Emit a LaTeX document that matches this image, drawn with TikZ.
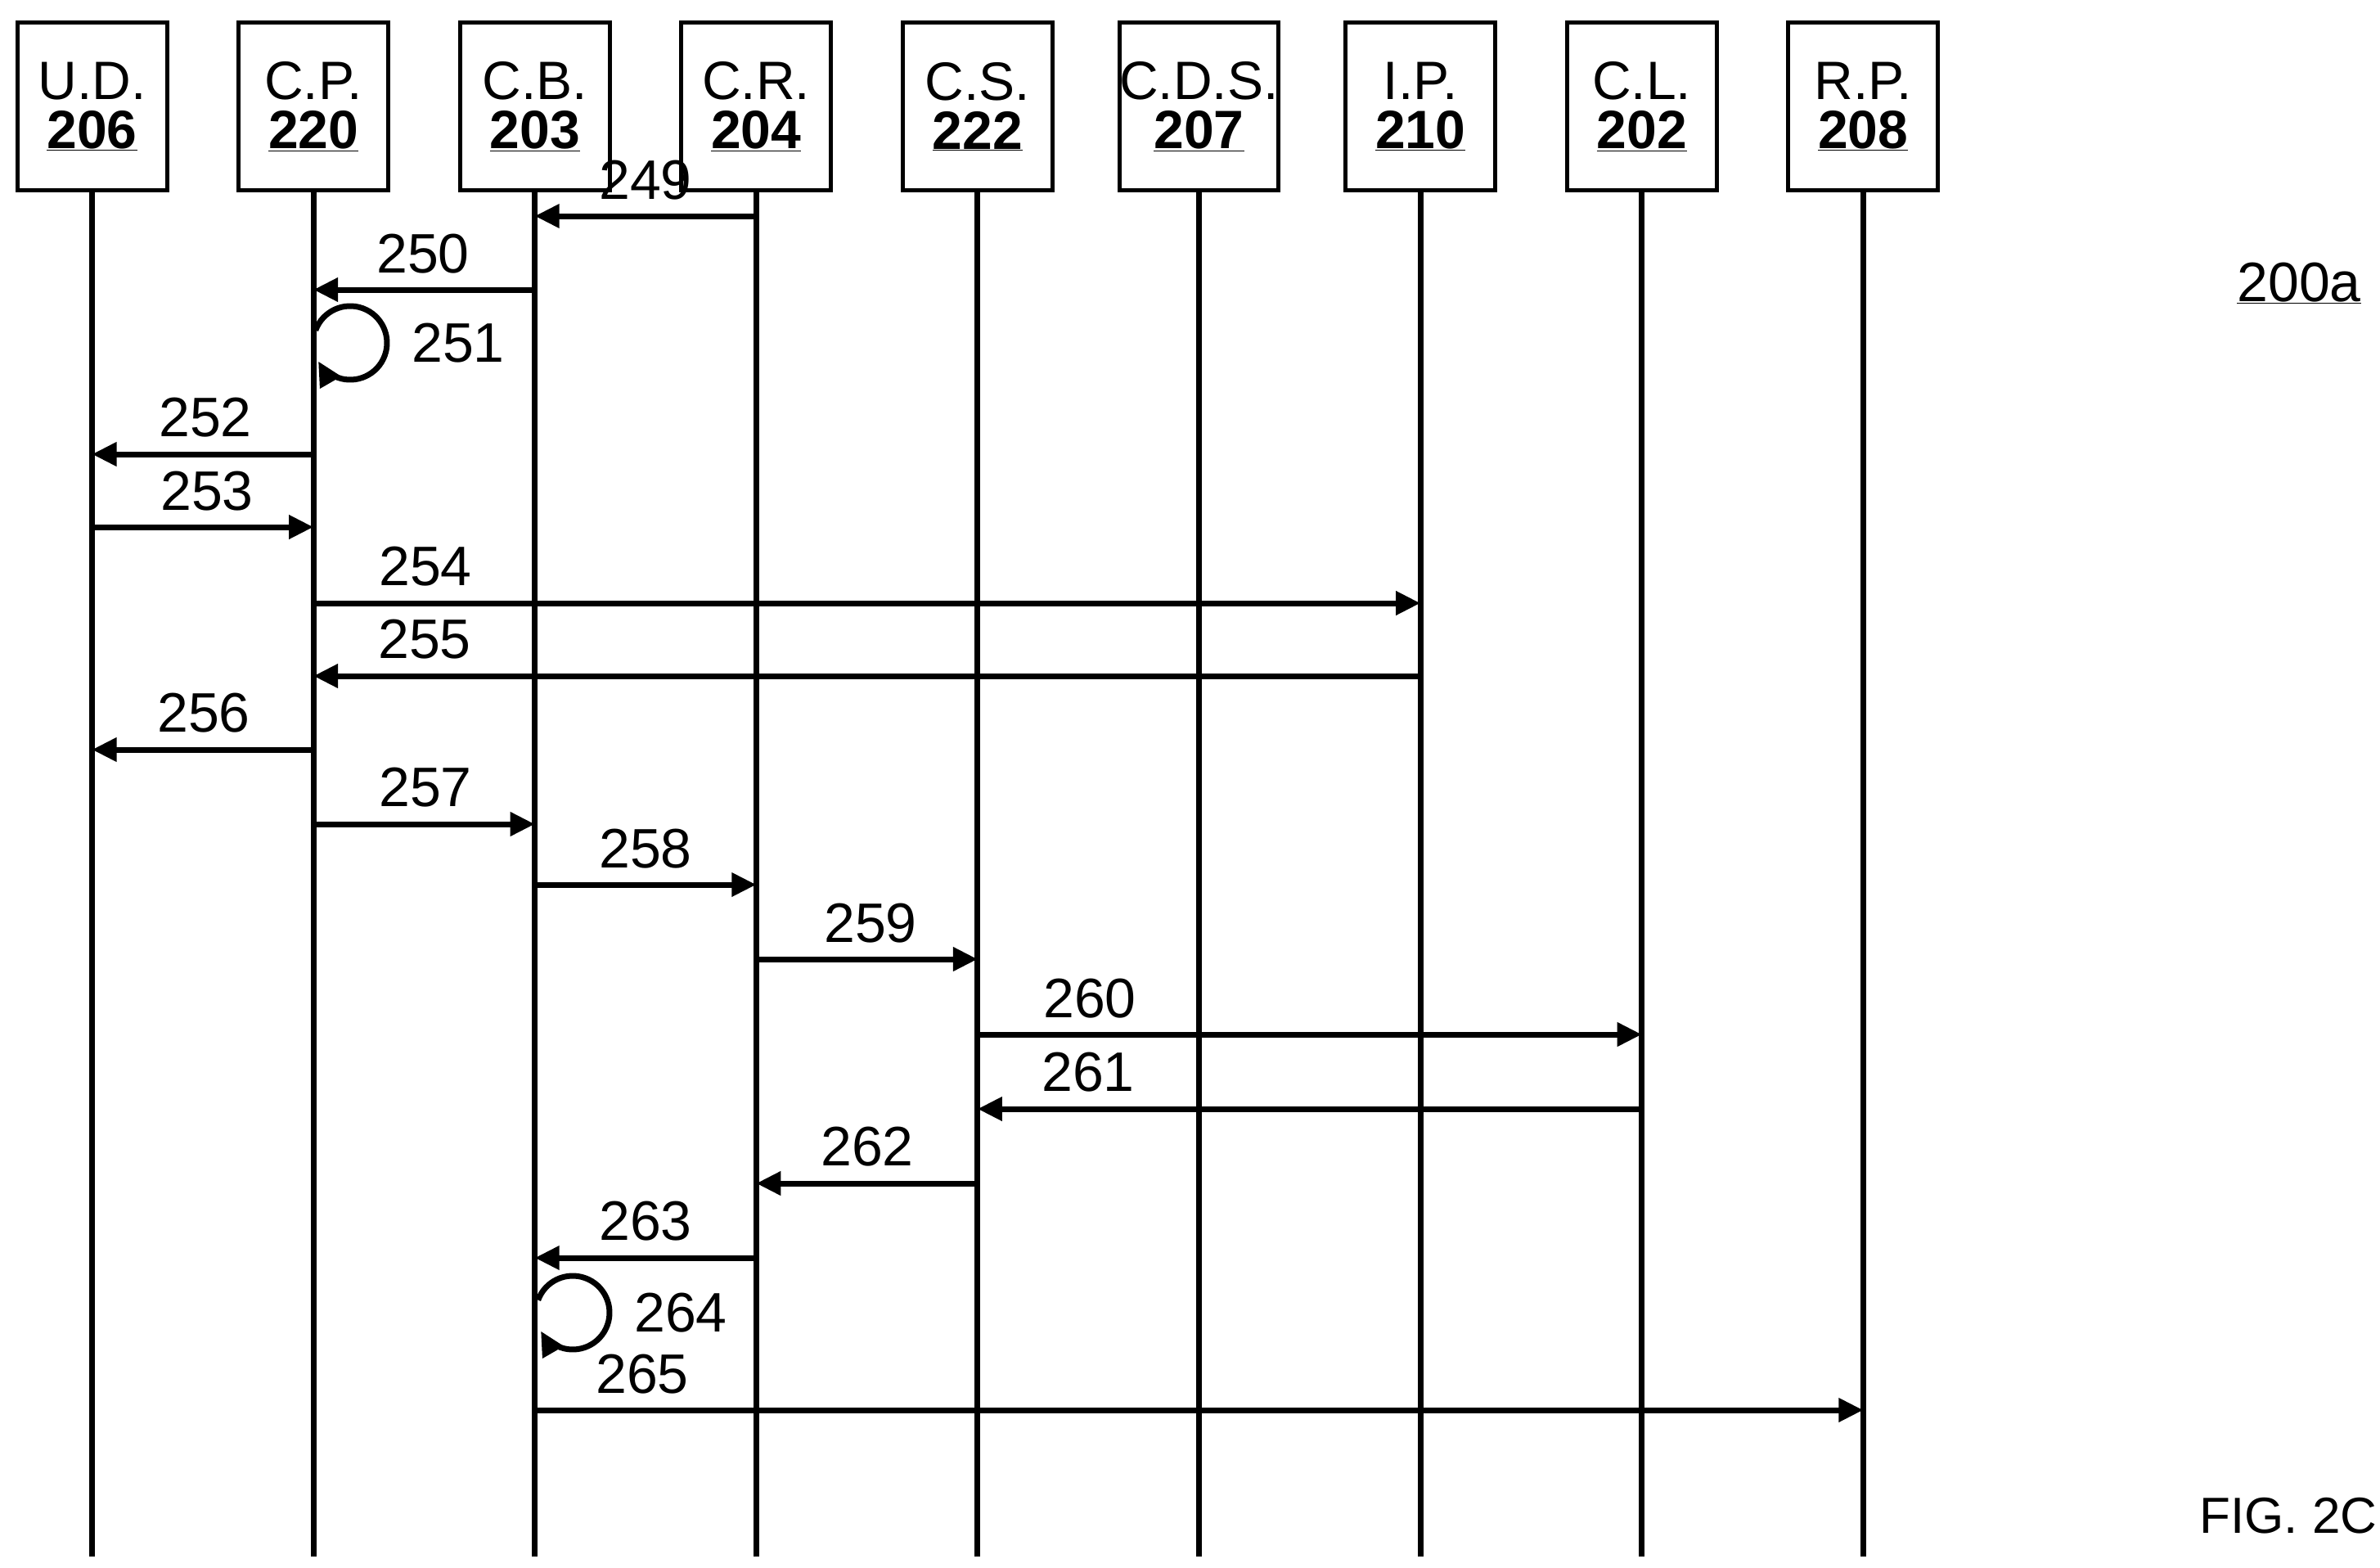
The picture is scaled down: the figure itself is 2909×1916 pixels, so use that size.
\documentclass[tikz,border=0pt]{standalone}
\usepackage{fontspec}
\setmainfont{Liberation Sans}
\usetikzlibrary{arrows.meta}
\begin{document}
\begin{tikzpicture}[x=1pt,y=-1pt,
  hdr/.style={draw,line width=5pt,minimum width=183pt,minimum height=204pt,inner sep=0pt,align=center,font=\fontsize{66}{66}\selectfont},
  life/.style={line width=7pt},
  msg/.style={line width=7pt,-{Triangle[length=30pt,width=28pt]}},
  lbl/.style={font=\fontsize{68}{68}\selectfont,inner sep=0pt}]
\useasboundingbox (0,0) rectangle (2909,1916);
\foreach \i/\n/\t/\num in {0/ud/U.D./206,1/cp/C.P./220,2/cb/C.B./203,3/cr/C.R./204,4/cs/C.S./222,5/cds/C.D.S./207,6/ip/I.P./210,7/cl/C.L./202,8/rp/R.P./208}{
  \node[hdr] (\n) at ({112.5+270.6*\i},130) {\t\\[-6pt]\textbf{\underline{\num}}};
  \coordinate (\n b) at ({112.5+270.6*\i},1902);
  \draw[life] (\n.south) -- (\n b);
}
\newcommand\msgto[4]{% from, to, y, label
  \coordinate (m1) at (#1.south |- 0,#3);
  \coordinate (m2) at (#2.south |- 0,#3);
  \draw[msg] (m1) -- (m2);
  \path (m1) -- (m2) coordinate[pos=0] (a) coordinate[pos=1] (b);
}
\newcommand\lab[3]{\node[lbl] at (#1,#2) {#3};}
\foreach \f/\t/\y/\l in {cr/cb/264/249,cb/cp/354/250,cp/ud/555/252,ud/cp/644/253,cp/ip/737/254,ip/cp/826/255,cp/ud/916/256,cp/cb/1007/257,cb/cr/1081/258,cr/cs/1172/259,cs/cl/1264/260,cl/cs/1355/261,cs/cr/1446/262,cr/cb/1537/263,cb/rp/1723/265}{
  \coordinate (p1) at (\f.south |- 0,\y);
  \coordinate (p2) at (\t.south |- 0,\y);
  \draw[msg] (p1) -- (p2);
}
\foreach \x/\y/\l in {789/220/249,517/310/250,251/510/252,253/600/253,520/692/254,519/781/255,249/871/256,520/962/257,789/1037/258,1064/1128/259,1332/1220/260,1330/1310/261,1060/1401/262,789/1492/263,785/1679/265}{
  \node[lbl] at (\x,\y) {\l};
}
\foreach \cx/\cy/\l in {428/419/251,700/1604/264}{
  \draw[line width=7pt,-{Triangle[length=30pt,width=28pt]}] ({\cx+45*cos(160)},{\cy-45*sin(160)}) arc[start angle=-160,end angle=150,radius=45];
  \node[lbl] at (\cx+132,\cy) {\l};
}
\node[lbl] at (2810,346) {\underline{200a}};
\node[lbl,font=\fontsize{62}{62}\selectfont] at (2797,1852) {FIG. 2C};
\end{tikzpicture}
\end{document}
